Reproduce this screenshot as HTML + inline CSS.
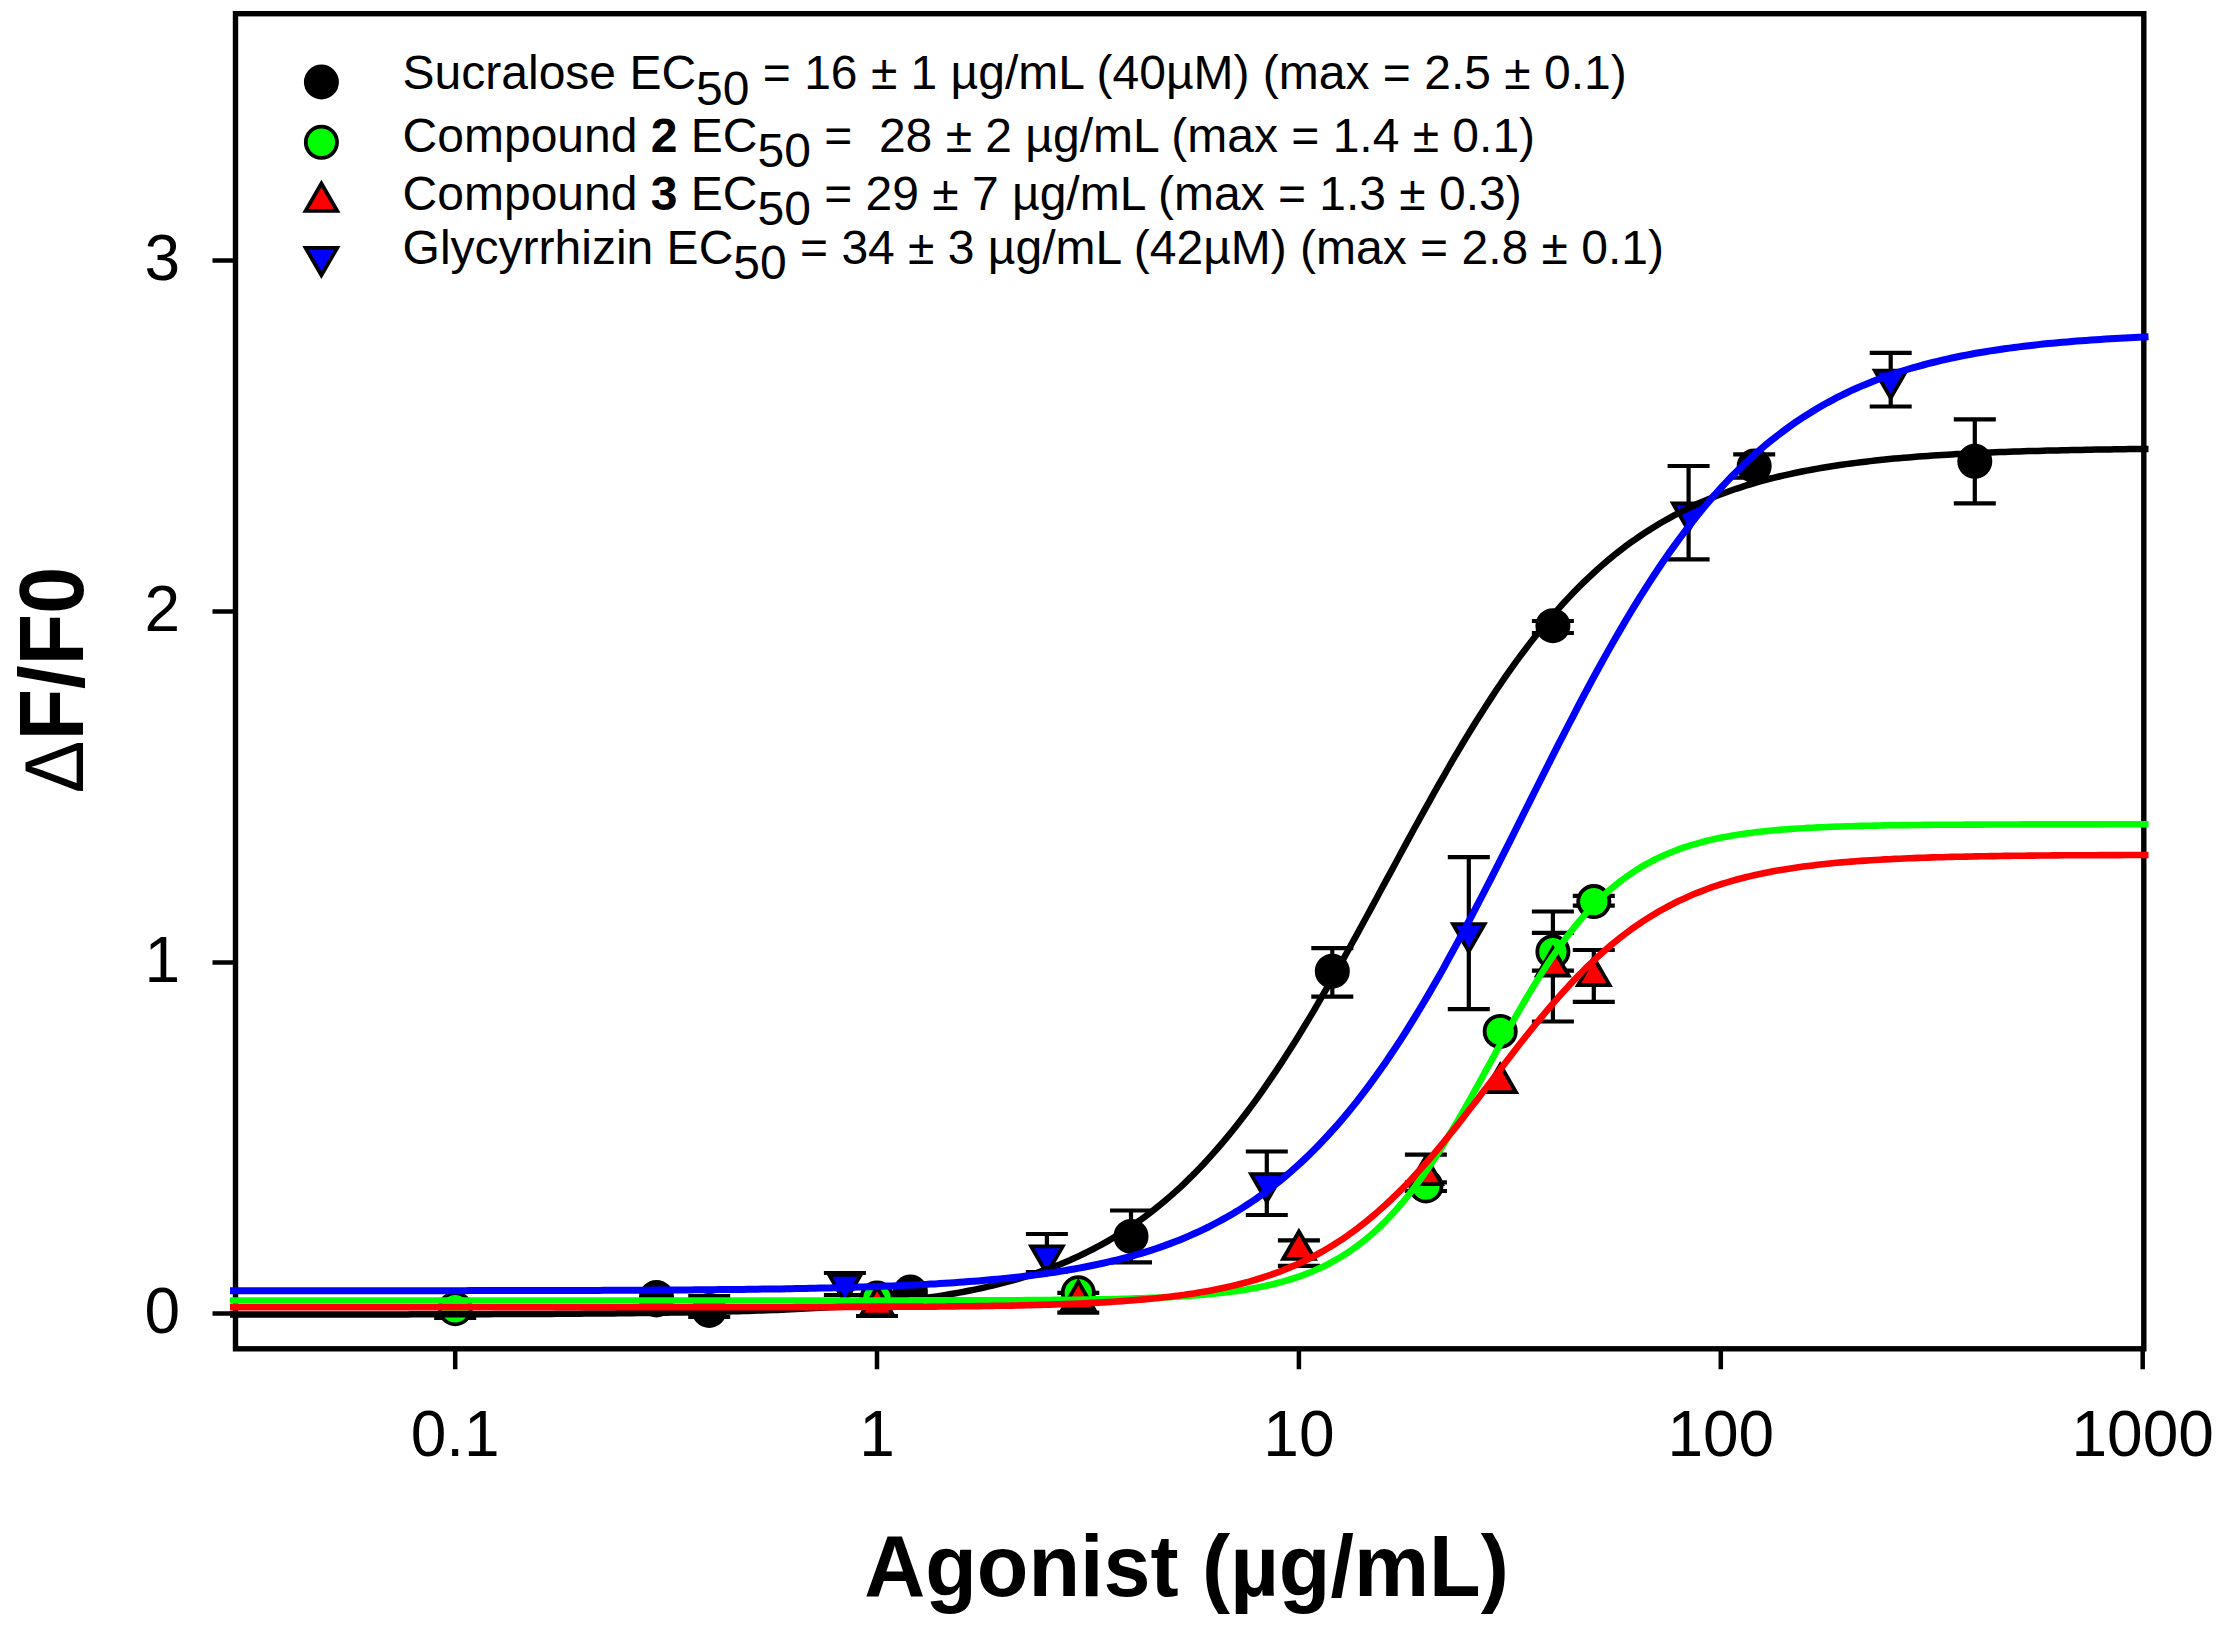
<!DOCTYPE html>
<html><head><meta charset="utf-8"><title>Dose-response</title>
<style>html,body{margin:0;padding:0;background:#fff;}svg{display:block;}</style>
</head><body>
<svg width="2229" height="1644" viewBox="0 0 2229 1644">
<rect x="0" y="0" width="2229" height="1644" fill="#fff"/>
<rect x="235.5" y="13.7" width="1908.3000000000002" height="1335.1" fill="none" stroke="#000" stroke-width="5.4"/>
<path d="M212.5,1313.5 H235.5 M212.5,962.5 H235.5 M212.5,611.5 H235.5 M212.5,260.5 H235.5 M455.2,1348.8 V1369.3 M877.0,1348.8 V1369.3 M1298.9,1348.8 V1369.3 M1720.8,1348.8 V1369.3 M2142.7,1348.8 V1369.3" stroke="#000" stroke-width="4.5" fill="none"/>
<g><path d="M709.2,1296.0 V1317.0 M688.2,1296.0 H730.2 M688.2,1317.0 H730.2" stroke="#000" stroke-width="4.2" fill="none"/><path d="M1131.0,1210.5 V1262.4 M1110.0,1210.5 H1152.0 M1110.0,1262.4 H1152.0" stroke="#000" stroke-width="4.2" fill="none"/><path d="M1332.3,948.1 V996.6 M1311.3,948.1 H1353.3 M1311.3,996.6 H1353.3" stroke="#000" stroke-width="4.2" fill="none"/><path d="M1552.9,621.0 V633.0 M1531.9,621.0 H1573.9 M1531.9,633.0 H1573.9" stroke="#000" stroke-width="4.2" fill="none"/><path d="M1754.2,454.3 V477.7 M1733.2,454.3 H1775.2 M1733.2,477.7 H1775.2" stroke="#000" stroke-width="4.2" fill="none"/><path d="M1974.8,419.3 V503.3 M1953.8,419.3 H1995.8 M1953.8,503.3 H1995.8" stroke="#000" stroke-width="4.2" fill="none"/><path d="M844.9,1273.0 V1295.0 M823.9,1273.0 H865.9 M823.9,1295.0 H865.9" stroke="#000" stroke-width="4.2" fill="none"/><path d="M1046.9,1234.0 V1272.0 M1025.9,1234.0 H1067.9 M1025.9,1272.0 H1067.9" stroke="#000" stroke-width="4.2" fill="none"/><path d="M1266.8,1151.5 V1215.0 M1245.8,1151.5 H1287.8 M1245.8,1215.0 H1287.8" stroke="#000" stroke-width="4.2" fill="none"/><path d="M1468.8,857.2 V1009.2 M1447.8,857.2 H1489.8 M1447.8,1009.2 H1489.8" stroke="#000" stroke-width="4.2" fill="none"/><path d="M1688.6,466.0 V559.3 M1667.6,466.0 H1709.6 M1667.6,559.3 H1709.6" stroke="#000" stroke-width="4.2" fill="none"/><path d="M1890.7,352.8 V406.5 M1869.7,352.8 H1911.7 M1869.7,406.5 H1911.7" stroke="#000" stroke-width="4.2" fill="none"/><path d="M455.2,1290.5 V1318.0 M434.2,1290.5 H476.2 M434.2,1318.0 H476.2" stroke="#000" stroke-width="4.2" fill="none"/><path d="M1425.9,1182.3 V1191.0 M1404.9,1182.3 H1446.9 M1404.9,1191.0 H1446.9" stroke="#000" stroke-width="4.2" fill="none"/><path d="M1552.9,932.8 V970.6 M1531.9,932.8 H1573.9 M1531.9,970.6 H1573.9" stroke="#000" stroke-width="4.2" fill="none"/><path d="M1593.8,895.8 V905.7 M1572.8,895.8 H1614.8 M1572.8,905.7 H1614.8" stroke="#000" stroke-width="4.2" fill="none"/><path d="M877.0,1295.0 V1316.0 M856.0,1295.0 H898.0 M856.0,1316.0 H898.0" stroke="#000" stroke-width="4.2" fill="none"/><path d="M1078.3,1292.9 V1312.7 M1057.3,1292.9 H1099.3 M1057.3,1312.7 H1099.3" stroke="#000" stroke-width="4.2" fill="none"/><path d="M1298.9,1240.4 V1265.8 M1277.9,1240.4 H1319.9 M1277.9,1265.8 H1319.9" stroke="#000" stroke-width="4.2" fill="none"/><path d="M1425.9,1154.6 V1191.0 M1404.9,1154.6 H1446.9 M1404.9,1191.0 H1446.9" stroke="#000" stroke-width="4.2" fill="none"/><path d="M1552.9,911.5 V1021.5 M1531.9,911.5 H1573.9 M1531.9,1021.5 H1573.9" stroke="#000" stroke-width="4.2" fill="none"/><path d="M1593.8,950.0 V1001.8 M1572.8,950.0 H1614.8 M1572.8,1001.8 H1614.8" stroke="#000" stroke-width="4.2" fill="none"/></g>
<g><circle cx="455.2" cy="1308.7" r="15.6" fill="#00ff00" stroke="#000" stroke-width="3.8"/><circle cx="656.5" cy="1300.0" r="15.6" fill="#00ff00" stroke="#000" stroke-width="3.8"/><circle cx="877.0" cy="1298.0" r="15.6" fill="#00ff00" stroke="#000" stroke-width="3.8"/><circle cx="1078.3" cy="1292.8" r="15.6" fill="#00ff00" stroke="#000" stroke-width="3.8"/><circle cx="1425.9" cy="1186.0" r="15.6" fill="#00ff00" stroke="#000" stroke-width="3.8"/><circle cx="1500.2" cy="1031.4" r="15.6" fill="#00ff00" stroke="#000" stroke-width="3.8"/><circle cx="1552.9" cy="951.7" r="15.6" fill="#00ff00" stroke="#000" stroke-width="3.8"/><circle cx="1593.8" cy="901.6" r="15.6" fill="#00ff00" stroke="#000" stroke-width="3.8"/><path d="M877.0,1287.3 L892.8,1314.6 L861.3,1314.6 Z" fill="#ff0000" stroke="#000" stroke-width="3.8" stroke-linejoin="miter"/><path d="M1078.3,1281.8 L1094.1,1309.1 L1062.6,1309.1 Z" fill="#ff0000" stroke="#000" stroke-width="3.8" stroke-linejoin="miter"/><path d="M1298.9,1231.5 L1314.7,1258.8 L1283.1,1258.8 Z" fill="#ff0000" stroke="#000" stroke-width="3.8" stroke-linejoin="miter"/><path d="M1425.9,1156.8 L1441.7,1184.1 L1410.1,1184.1 Z" fill="#ff0000" stroke="#000" stroke-width="3.8" stroke-linejoin="miter"/><path d="M1500.2,1064.8 L1516.0,1092.1 L1484.4,1092.1 Z" fill="#ff0000" stroke="#000" stroke-width="3.8" stroke-linejoin="miter"/><path d="M1552.9,948.3 L1568.7,975.6 L1537.1,975.6 Z" fill="#ff0000" stroke="#000" stroke-width="3.8" stroke-linejoin="miter"/><path d="M1593.8,957.7 L1609.6,985.0 L1578.0,985.0 Z" fill="#ff0000" stroke="#000" stroke-width="3.8" stroke-linejoin="miter"/><path d="M829.1,1274.9 L860.7,1274.9 L844.9,1302.2 Z" fill="#0000ff" stroke="#000" stroke-width="3.8" stroke-linejoin="miter"/><path d="M1031.1,1246.4 L1062.7,1246.4 L1046.9,1273.7 Z" fill="#0000ff" stroke="#000" stroke-width="3.8" stroke-linejoin="miter"/><path d="M1251.0,1174.2 L1282.5,1174.2 L1266.8,1201.5 Z" fill="#0000ff" stroke="#000" stroke-width="3.8" stroke-linejoin="miter"/><path d="M1453.0,924.1 L1484.6,924.1 L1468.8,951.4 Z" fill="#0000ff" stroke="#000" stroke-width="3.8" stroke-linejoin="miter"/><path d="M1672.9,503.5 L1704.4,503.5 L1688.6,530.8 Z" fill="#0000ff" stroke="#000" stroke-width="3.8" stroke-linejoin="miter"/><path d="M1874.9,370.6 L1906.4,370.6 L1890.7,397.9 Z" fill="#0000ff" stroke="#000" stroke-width="3.8" stroke-linejoin="miter"/><circle cx="656.5" cy="1297.4" r="15.6" fill="#000" stroke="#000" stroke-width="3.8"/><circle cx="709.2" cy="1310.4" r="15.6" fill="#000" stroke="#000" stroke-width="3.8"/><circle cx="910.4" cy="1292.0" r="15.6" fill="#000" stroke="#000" stroke-width="3.8"/><circle cx="1131.0" cy="1236.4" r="15.6" fill="#000" stroke="#000" stroke-width="3.8"/><circle cx="1332.3" cy="971.2" r="15.6" fill="#000" stroke="#000" stroke-width="3.8"/><circle cx="1552.9" cy="625.7" r="15.6" fill="#000" stroke="#000" stroke-width="3.8"/><circle cx="1754.2" cy="466.0" r="15.6" fill="#000" stroke="#000" stroke-width="3.8"/><circle cx="1974.8" cy="461.3" r="15.6" fill="#000" stroke="#000" stroke-width="3.8"/></g>
<path d="M230.0,1314.5 L234.8,1314.5 L239.6,1314.5 L244.4,1314.5 L249.2,1314.5 L254.0,1314.5 L258.8,1314.5 L263.6,1314.5 L268.4,1314.5 L273.2,1314.5 L278.0,1314.5 L282.8,1314.5 L287.6,1314.5 L292.4,1314.5 L297.1,1314.5 L301.9,1314.5 L306.7,1314.5 L311.5,1314.5 L316.3,1314.5 L321.1,1314.5 L325.9,1314.5 L330.7,1314.4 L335.5,1314.4 L340.3,1314.4 L345.1,1314.4 L349.9,1314.4 L354.7,1314.4 L359.5,1314.4 L364.3,1314.4 L369.1,1314.4 L373.9,1314.4 L378.7,1314.4 L383.5,1314.4 L388.3,1314.4 L393.1,1314.4 L397.9,1314.4 L402.7,1314.4 L407.5,1314.4 L412.3,1314.3 L417.1,1314.3 L421.9,1314.3 L426.6,1314.3 L431.4,1314.3 L436.2,1314.3 L441.0,1314.3 L445.8,1314.3 L450.6,1314.3 L455.4,1314.3 L460.2,1314.2 L465.0,1314.2 L469.8,1314.2 L474.6,1314.2 L479.4,1314.2 L484.2,1314.2 L489.0,1314.2 L493.8,1314.1 L498.6,1314.1 L503.4,1314.1 L508.2,1314.1 L513.0,1314.1 L517.8,1314.0 L522.6,1314.0 L527.4,1314.0 L532.2,1314.0 L537.0,1313.9 L541.8,1313.9 L546.6,1313.9 L551.3,1313.9 L556.1,1313.8 L560.9,1313.8 L565.7,1313.8 L570.5,1313.7 L575.3,1313.7 L580.1,1313.7 L584.9,1313.6 L589.7,1313.6 L594.5,1313.6 L599.3,1313.5 L604.1,1313.5 L608.9,1313.4 L613.7,1313.4 L618.5,1313.3 L623.3,1313.3 L628.1,1313.2 L632.9,1313.2 L637.7,1313.1 L642.5,1313.1 L647.3,1313.0 L652.1,1312.9 L656.9,1312.9 L661.7,1312.8 L666.5,1312.7 L671.3,1312.6 L676.1,1312.6 L680.8,1312.5 L685.6,1312.4 L690.4,1312.3 L695.2,1312.2 L700.0,1312.1 L704.8,1312.0 L709.6,1311.9 L714.4,1311.8 L719.2,1311.7 L724.0,1311.6 L728.8,1311.4 L733.6,1311.3 L738.4,1311.2 L743.2,1311.0 L748.0,1310.9 L752.8,1310.7 L757.6,1310.6 L762.4,1310.4 L767.2,1310.2 L772.0,1310.0 L776.8,1309.9 L781.6,1309.7 L786.4,1309.5 L791.2,1309.2 L796.0,1309.0 L800.8,1308.8 L805.5,1308.6 L810.3,1308.3 L815.1,1308.0 L819.9,1307.8 L824.7,1307.5 L829.5,1307.2 L834.3,1306.9 L839.1,1306.6 L843.9,1306.2 L848.7,1305.9 L853.5,1305.5 L858.3,1305.2 L863.1,1304.8 L867.9,1304.4 L872.7,1303.9 L877.5,1303.5 L882.3,1303.1 L887.1,1302.6 L891.9,1302.1 L896.7,1301.6 L901.5,1301.0 L906.3,1300.5 L911.1,1299.9 L915.9,1299.3 L920.7,1298.7 L925.5,1298.0 L930.3,1297.3 L935.0,1296.6 L939.8,1295.9 L944.6,1295.1 L949.4,1294.3 L954.2,1293.5 L959.0,1292.6 L963.8,1291.8 L968.6,1290.8 L973.4,1289.9 L978.2,1288.9 L983.0,1287.8 L987.8,1286.7 L992.6,1285.6 L997.4,1284.4 L1002.2,1283.2 L1007.0,1281.9 L1011.8,1280.6 L1016.6,1279.3 L1021.4,1277.9 L1026.2,1276.4 L1031.0,1274.9 L1035.8,1273.3 L1040.6,1271.6 L1045.4,1269.9 L1050.2,1268.2 L1055.0,1266.3 L1059.8,1264.4 L1064.5,1262.4 L1069.3,1260.4 L1074.1,1258.3 L1078.9,1256.1 L1083.7,1253.8 L1088.5,1251.4 L1093.3,1249.0 L1098.1,1246.5 L1102.9,1243.8 L1107.7,1241.1 L1112.5,1238.3 L1117.3,1235.4 L1122.1,1232.4 L1126.9,1229.3 L1131.7,1226.1 L1136.5,1222.8 L1141.3,1219.4 L1146.1,1215.8 L1150.9,1212.2 L1155.7,1208.4 L1160.5,1204.5 L1165.3,1200.5 L1170.1,1196.4 L1174.9,1192.2 L1179.7,1187.8 L1184.5,1183.3 L1189.2,1178.6 L1194.0,1173.9 L1198.8,1168.9 L1203.6,1163.9 L1208.4,1158.7 L1213.2,1153.4 L1218.0,1148.0 L1222.8,1142.4 L1227.6,1136.6 L1232.4,1130.8 L1237.2,1124.7 L1242.0,1118.6 L1246.8,1112.3 L1251.6,1105.9 L1256.4,1099.3 L1261.2,1092.6 L1266.0,1085.7 L1270.8,1078.7 L1275.6,1071.6 L1280.4,1064.4 L1285.2,1057.0 L1290.0,1049.5 L1294.8,1041.9 L1299.6,1034.2 L1304.4,1026.3 L1309.2,1018.4 L1314.0,1010.3 L1318.7,1002.2 L1323.5,993.9 L1328.3,985.6 L1333.1,977.2 L1337.9,968.7 L1342.7,960.1 L1347.5,951.5 L1352.3,942.8 L1357.1,934.1 L1361.9,925.3 L1366.7,916.5 L1371.5,907.6 L1376.3,898.7 L1381.1,889.8 L1385.9,880.9 L1390.7,872.1 L1395.5,863.2 L1400.3,854.3 L1405.1,845.4 L1409.9,836.6 L1414.7,827.8 L1419.5,819.1 L1424.3,810.4 L1429.1,801.8 L1433.9,793.2 L1438.7,784.7 L1443.5,776.3 L1448.2,768.0 L1453.0,759.7 L1457.8,751.6 L1462.6,743.5 L1467.4,735.6 L1472.2,727.7 L1477.0,720.0 L1481.8,712.4 L1486.6,704.9 L1491.4,697.6 L1496.2,690.3 L1501.0,683.2 L1505.8,676.2 L1510.6,669.4 L1515.4,662.7 L1520.2,656.1 L1525.0,649.7 L1529.8,643.4 L1534.6,637.2 L1539.4,631.2 L1544.2,625.4 L1549.0,619.6 L1553.8,614.0 L1558.6,608.6 L1563.4,603.3 L1568.2,598.1 L1573.0,593.1 L1577.7,588.2 L1582.5,583.4 L1587.3,578.8 L1592.1,574.3 L1596.9,569.9 L1601.7,565.6 L1606.5,561.5 L1611.3,557.5 L1616.1,553.6 L1620.9,549.9 L1625.7,546.2 L1630.5,542.7 L1635.3,539.3 L1640.1,536.0 L1644.9,532.8 L1649.7,529.7 L1654.5,526.7 L1659.3,523.8 L1664.1,521.0 L1668.9,518.3 L1673.7,515.6 L1678.5,513.1 L1683.3,510.7 L1688.1,508.3 L1692.9,506.0 L1697.7,503.8 L1702.4,501.7 L1707.2,499.7 L1712.0,497.7 L1716.8,495.8 L1721.6,494.0 L1726.4,492.2 L1731.2,490.5 L1736.0,488.8 L1740.8,487.3 L1745.6,485.7 L1750.4,484.3 L1755.2,482.9 L1760.0,481.5 L1764.8,480.2 L1769.6,478.9 L1774.4,477.7 L1779.2,476.5 L1784.0,475.4 L1788.8,474.3 L1793.6,473.3 L1798.4,472.3 L1803.2,471.3 L1808.0,470.4 L1812.8,469.5 L1817.6,468.6 L1822.4,467.8 L1827.2,467.0 L1831.9,466.3 L1836.7,465.5 L1841.5,464.8 L1846.3,464.1 L1851.1,463.5 L1855.9,462.9 L1860.7,462.3 L1865.5,461.7 L1870.3,461.1 L1875.1,460.6 L1879.9,460.1 L1884.7,459.6 L1889.5,459.1 L1894.3,458.6 L1899.1,458.2 L1903.9,457.8 L1908.7,457.4 L1913.5,457.0 L1918.3,456.6 L1923.1,456.3 L1927.9,455.9 L1932.7,455.6 L1937.5,455.3 L1942.3,455.0 L1947.1,454.7 L1951.9,454.4 L1956.7,454.1 L1961.4,453.9 L1966.2,453.6 L1971.0,453.4 L1975.8,453.1 L1980.6,452.9 L1985.4,452.7 L1990.2,452.5 L1995.0,452.3 L1999.8,452.1 L2004.6,451.9 L2009.4,451.8 L2014.2,451.6 L2019.0,451.4 L2023.8,451.3 L2028.6,451.1 L2033.4,451.0 L2038.2,450.9 L2043.0,450.7 L2047.8,450.6 L2052.6,450.5 L2057.4,450.4 L2062.2,450.3 L2067.0,450.2 L2071.8,450.1 L2076.6,450.0 L2081.4,449.9 L2086.1,449.8 L2090.9,449.7 L2095.7,449.6 L2100.5,449.5 L2105.3,449.4 L2110.1,449.4 L2114.9,449.3 L2119.7,449.2 L2124.5,449.2 L2129.3,449.1 L2134.1,449.1 L2138.9,449.0 L2143.7,448.9 L2148.5,448.9" stroke="#000" stroke-width="6.5" fill="none"/>
<path d="M230.0,1300.5 L234.8,1300.5 L239.6,1300.5 L244.4,1300.5 L249.2,1300.5 L254.0,1300.5 L258.8,1300.5 L263.6,1300.5 L268.4,1300.5 L273.2,1300.5 L278.0,1300.5 L282.8,1300.5 L287.6,1300.5 L292.4,1300.5 L297.1,1300.5 L301.9,1300.5 L306.7,1300.5 L311.5,1300.5 L316.3,1300.5 L321.1,1300.5 L325.9,1300.5 L330.7,1300.5 L335.5,1300.5 L340.3,1300.5 L345.1,1300.5 L349.9,1300.5 L354.7,1300.5 L359.5,1300.5 L364.3,1300.5 L369.1,1300.5 L373.9,1300.5 L378.7,1300.5 L383.5,1300.5 L388.3,1300.5 L393.1,1300.5 L397.9,1300.5 L402.7,1300.5 L407.5,1300.5 L412.3,1300.5 L417.1,1300.5 L421.9,1300.5 L426.6,1300.5 L431.4,1300.5 L436.2,1300.5 L441.0,1300.5 L445.8,1300.5 L450.6,1300.5 L455.4,1300.5 L460.2,1300.5 L465.0,1300.5 L469.8,1300.5 L474.6,1300.5 L479.4,1300.5 L484.2,1300.5 L489.0,1300.5 L493.8,1300.5 L498.6,1300.5 L503.4,1300.5 L508.2,1300.5 L513.0,1300.5 L517.8,1300.5 L522.6,1300.5 L527.4,1300.5 L532.2,1300.5 L537.0,1300.5 L541.8,1300.5 L546.6,1300.5 L551.3,1300.5 L556.1,1300.5 L560.9,1300.5 L565.7,1300.5 L570.5,1300.5 L575.3,1300.5 L580.1,1300.5 L584.9,1300.5 L589.7,1300.5 L594.5,1300.5 L599.3,1300.5 L604.1,1300.5 L608.9,1300.5 L613.7,1300.5 L618.5,1300.5 L623.3,1300.5 L628.1,1300.5 L632.9,1300.5 L637.7,1300.5 L642.5,1300.5 L647.3,1300.5 L652.1,1300.5 L656.9,1300.5 L661.7,1300.5 L666.5,1300.5 L671.3,1300.5 L676.1,1300.5 L680.8,1300.5 L685.6,1300.5 L690.4,1300.5 L695.2,1300.5 L700.0,1300.5 L704.8,1300.5 L709.6,1300.5 L714.4,1300.5 L719.2,1300.5 L724.0,1300.5 L728.8,1300.5 L733.6,1300.5 L738.4,1300.5 L743.2,1300.5 L748.0,1300.5 L752.8,1300.5 L757.6,1300.5 L762.4,1300.5 L767.2,1300.5 L772.0,1300.5 L776.8,1300.5 L781.6,1300.5 L786.4,1300.5 L791.2,1300.5 L796.0,1300.5 L800.8,1300.5 L805.5,1300.5 L810.3,1300.5 L815.1,1300.5 L819.9,1300.5 L824.7,1300.5 L829.5,1300.5 L834.3,1300.5 L839.1,1300.5 L843.9,1300.5 L848.7,1300.5 L853.5,1300.5 L858.3,1300.5 L863.1,1300.5 L867.9,1300.5 L872.7,1300.5 L877.5,1300.5 L882.3,1300.5 L887.1,1300.5 L891.9,1300.5 L896.7,1300.5 L901.5,1300.5 L906.3,1300.5 L911.1,1300.4 L915.9,1300.4 L920.7,1300.4 L925.5,1300.4 L930.3,1300.4 L935.0,1300.4 L939.8,1300.4 L944.6,1300.4 L949.4,1300.4 L954.2,1300.4 L959.0,1300.4 L963.8,1300.4 L968.6,1300.4 L973.4,1300.3 L978.2,1300.3 L983.0,1300.3 L987.8,1300.3 L992.6,1300.3 L997.4,1300.3 L1002.2,1300.2 L1007.0,1300.2 L1011.8,1300.2 L1016.6,1300.2 L1021.4,1300.2 L1026.2,1300.1 L1031.0,1300.1 L1035.8,1300.1 L1040.6,1300.0 L1045.4,1300.0 L1050.2,1300.0 L1055.0,1299.9 L1059.8,1299.9 L1064.5,1299.8 L1069.3,1299.8 L1074.1,1299.7 L1078.9,1299.7 L1083.7,1299.6 L1088.5,1299.5 L1093.3,1299.4 L1098.1,1299.4 L1102.9,1299.3 L1107.7,1299.2 L1112.5,1299.1 L1117.3,1299.0 L1122.1,1298.9 L1126.9,1298.7 L1131.7,1298.6 L1136.5,1298.4 L1141.3,1298.3 L1146.1,1298.1 L1150.9,1297.9 L1155.7,1297.7 L1160.5,1297.5 L1165.3,1297.3 L1170.1,1297.1 L1174.9,1296.8 L1179.7,1296.5 L1184.5,1296.2 L1189.2,1295.9 L1194.0,1295.5 L1198.8,1295.2 L1203.6,1294.7 L1208.4,1294.3 L1213.2,1293.8 L1218.0,1293.3 L1222.8,1292.8 L1227.6,1292.2 L1232.4,1291.6 L1237.2,1290.9 L1242.0,1290.2 L1246.8,1289.5 L1251.6,1288.6 L1256.4,1287.7 L1261.2,1286.8 L1266.0,1285.8 L1270.8,1284.7 L1275.6,1283.5 L1280.4,1282.3 L1285.2,1280.9 L1290.0,1279.5 L1294.8,1278.0 L1299.6,1276.4 L1304.4,1274.6 L1309.2,1272.7 L1314.0,1270.8 L1318.7,1268.6 L1323.5,1266.4 L1328.3,1264.0 L1333.1,1261.4 L1337.9,1258.7 L1342.7,1255.8 L1347.5,1252.7 L1352.3,1249.4 L1357.1,1246.0 L1361.9,1242.3 L1366.7,1238.5 L1371.5,1234.4 L1376.3,1230.1 L1381.1,1225.5 L1385.9,1220.8 L1390.7,1215.8 L1395.5,1210.5 L1400.3,1205.0 L1405.1,1199.3 L1409.9,1193.3 L1414.7,1187.0 L1419.5,1180.5 L1424.3,1173.8 L1429.1,1166.8 L1433.9,1159.6 L1438.7,1152.2 L1443.5,1144.6 L1448.2,1136.8 L1453.0,1128.8 L1457.8,1120.6 L1462.6,1112.3 L1467.4,1103.9 L1472.2,1095.3 L1477.0,1086.7 L1481.8,1078.0 L1486.6,1069.2 L1491.4,1060.5 L1496.2,1051.7 L1501.0,1043.0 L1505.8,1034.3 L1510.6,1025.7 L1515.4,1017.2 L1520.2,1008.8 L1525.0,1000.5 L1529.8,992.4 L1534.6,984.5 L1539.4,976.8 L1544.2,969.3 L1549.0,961.9 L1553.8,954.9 L1558.6,948.0 L1563.4,941.4 L1568.2,935.0 L1573.0,928.9 L1577.7,923.0 L1582.5,917.3 L1587.3,912.0 L1592.1,906.8 L1596.9,901.9 L1601.7,897.2 L1606.5,892.8 L1611.3,888.6 L1616.1,884.6 L1620.9,880.8 L1625.7,877.3 L1630.5,873.9 L1635.3,870.7 L1640.1,867.7 L1644.9,864.9 L1649.7,862.3 L1654.5,859.8 L1659.3,857.4 L1664.1,855.2 L1668.9,853.2 L1673.7,851.2 L1678.5,849.4 L1683.3,847.7 L1688.1,846.1 L1692.9,844.7 L1697.7,843.3 L1702.4,842.0 L1707.2,840.8 L1712.0,839.6 L1716.8,838.6 L1721.6,837.6 L1726.4,836.7 L1731.2,835.8 L1736.0,835.0 L1740.8,834.3 L1745.6,833.6 L1750.4,832.9 L1755.2,832.3 L1760.0,831.8 L1764.8,831.3 L1769.6,830.8 L1774.4,830.3 L1779.2,829.9 L1784.0,829.5 L1788.8,829.1 L1793.6,828.8 L1798.4,828.5 L1803.2,828.2 L1808.0,827.9 L1812.8,827.7 L1817.6,827.4 L1822.4,827.2 L1827.2,827.0 L1831.9,826.8 L1836.7,826.6 L1841.5,826.5 L1846.3,826.3 L1851.1,826.2 L1855.9,826.0 L1860.7,825.9 L1865.5,825.8 L1870.3,825.7 L1875.1,825.6 L1879.9,825.5 L1884.7,825.4 L1889.5,825.3 L1894.3,825.3 L1899.1,825.2 L1903.9,825.1 L1908.7,825.1 L1913.5,825.0 L1918.3,825.0 L1923.1,824.9 L1927.9,824.9 L1932.7,824.8 L1937.5,824.8 L1942.3,824.8 L1947.1,824.7 L1951.9,824.7 L1956.7,824.7 L1961.4,824.7 L1966.2,824.6 L1971.0,824.6 L1975.8,824.6 L1980.6,824.6 L1985.4,824.5 L1990.2,824.5 L1995.0,824.5 L1999.8,824.5 L2004.6,824.5 L2009.4,824.5 L2014.2,824.5 L2019.0,824.5 L2023.8,824.4 L2028.6,824.4 L2033.4,824.4 L2038.2,824.4 L2043.0,824.4 L2047.8,824.4 L2052.6,824.4 L2057.4,824.4 L2062.2,824.4 L2067.0,824.4 L2071.8,824.4 L2076.6,824.4 L2081.4,824.4 L2086.1,824.4 L2090.9,824.4 L2095.7,824.4 L2100.5,824.4 L2105.3,824.3 L2110.1,824.3 L2114.9,824.3 L2119.7,824.3 L2124.5,824.3 L2129.3,824.3 L2134.1,824.3 L2138.9,824.3 L2143.7,824.3 L2148.5,824.3" stroke="#00ff00" stroke-width="6.6" fill="none"/>
<path d="M230.0,1307.3 L234.8,1307.3 L239.6,1307.3 L244.4,1307.3 L249.2,1307.3 L254.0,1307.3 L258.8,1307.3 L263.6,1307.3 L268.4,1307.3 L273.2,1307.3 L278.0,1307.3 L282.8,1307.3 L287.6,1307.3 L292.4,1307.3 L297.1,1307.3 L301.9,1307.3 L306.7,1307.3 L311.5,1307.3 L316.3,1307.3 L321.1,1307.3 L325.9,1307.3 L330.7,1307.3 L335.5,1307.3 L340.3,1307.3 L345.1,1307.3 L349.9,1307.3 L354.7,1307.3 L359.5,1307.3 L364.3,1307.3 L369.1,1307.3 L373.9,1307.3 L378.7,1307.3 L383.5,1307.3 L388.3,1307.3 L393.1,1307.3 L397.9,1307.3 L402.7,1307.3 L407.5,1307.3 L412.3,1307.3 L417.1,1307.3 L421.9,1307.3 L426.6,1307.3 L431.4,1307.3 L436.2,1307.3 L441.0,1307.3 L445.8,1307.3 L450.6,1307.3 L455.4,1307.3 L460.2,1307.3 L465.0,1307.3 L469.8,1307.3 L474.6,1307.3 L479.4,1307.3 L484.2,1307.3 L489.0,1307.3 L493.8,1307.3 L498.6,1307.3 L503.4,1307.3 L508.2,1307.3 L513.0,1307.3 L517.8,1307.3 L522.6,1307.3 L527.4,1307.3 L532.2,1307.3 L537.0,1307.3 L541.8,1307.3 L546.6,1307.3 L551.3,1307.3 L556.1,1307.3 L560.9,1307.3 L565.7,1307.3 L570.5,1307.3 L575.3,1307.3 L580.1,1307.3 L584.9,1307.3 L589.7,1307.3 L594.5,1307.3 L599.3,1307.3 L604.1,1307.3 L608.9,1307.3 L613.7,1307.3 L618.5,1307.3 L623.3,1307.3 L628.1,1307.3 L632.9,1307.3 L637.7,1307.3 L642.5,1307.3 L647.3,1307.3 L652.1,1307.3 L656.9,1307.3 L661.7,1307.3 L666.5,1307.3 L671.3,1307.3 L676.1,1307.3 L680.8,1307.3 L685.6,1307.2 L690.4,1307.2 L695.2,1307.2 L700.0,1307.2 L704.8,1307.2 L709.6,1307.2 L714.4,1307.2 L719.2,1307.2 L724.0,1307.2 L728.8,1307.2 L733.6,1307.2 L738.4,1307.2 L743.2,1307.2 L748.0,1307.2 L752.8,1307.2 L757.6,1307.2 L762.4,1307.2 L767.2,1307.2 L772.0,1307.2 L776.8,1307.2 L781.6,1307.2 L786.4,1307.2 L791.2,1307.2 L796.0,1307.1 L800.8,1307.1 L805.5,1307.1 L810.3,1307.1 L815.1,1307.1 L819.9,1307.1 L824.7,1307.1 L829.5,1307.1 L834.3,1307.1 L839.1,1307.1 L843.9,1307.0 L848.7,1307.0 L853.5,1307.0 L858.3,1307.0 L863.1,1307.0 L867.9,1307.0 L872.7,1306.9 L877.5,1306.9 L882.3,1306.9 L887.1,1306.9 L891.9,1306.9 L896.7,1306.8 L901.5,1306.8 L906.3,1306.8 L911.1,1306.7 L915.9,1306.7 L920.7,1306.7 L925.5,1306.7 L930.3,1306.6 L935.0,1306.6 L939.8,1306.5 L944.6,1306.5 L949.4,1306.4 L954.2,1306.4 L959.0,1306.3 L963.8,1306.3 L968.6,1306.2 L973.4,1306.2 L978.2,1306.1 L983.0,1306.0 L987.8,1306.0 L992.6,1305.9 L997.4,1305.8 L1002.2,1305.7 L1007.0,1305.7 L1011.8,1305.6 L1016.6,1305.5 L1021.4,1305.4 L1026.2,1305.2 L1031.0,1305.1 L1035.8,1305.0 L1040.6,1304.9 L1045.4,1304.7 L1050.2,1304.6 L1055.0,1304.4 L1059.8,1304.3 L1064.5,1304.1 L1069.3,1303.9 L1074.1,1303.7 L1078.9,1303.5 L1083.7,1303.3 L1088.5,1303.1 L1093.3,1302.9 L1098.1,1302.6 L1102.9,1302.4 L1107.7,1302.1 L1112.5,1301.8 L1117.3,1301.5 L1122.1,1301.1 L1126.9,1300.8 L1131.7,1300.4 L1136.5,1300.0 L1141.3,1299.6 L1146.1,1299.2 L1150.9,1298.7 L1155.7,1298.3 L1160.5,1297.8 L1165.3,1297.2 L1170.1,1296.7 L1174.9,1296.1 L1179.7,1295.4 L1184.5,1294.8 L1189.2,1294.1 L1194.0,1293.4 L1198.8,1292.6 L1203.6,1291.8 L1208.4,1290.9 L1213.2,1290.0 L1218.0,1289.1 L1222.8,1288.1 L1227.6,1287.0 L1232.4,1285.9 L1237.2,1284.8 L1242.0,1283.5 L1246.8,1282.3 L1251.6,1280.9 L1256.4,1279.5 L1261.2,1278.0 L1266.0,1276.4 L1270.8,1274.8 L1275.6,1273.1 L1280.4,1271.3 L1285.2,1269.4 L1290.0,1267.4 L1294.8,1265.4 L1299.6,1263.2 L1304.4,1260.9 L1309.2,1258.6 L1314.0,1256.1 L1318.7,1253.5 L1323.5,1250.8 L1328.3,1248.0 L1333.1,1245.1 L1337.9,1242.0 L1342.7,1238.9 L1347.5,1235.6 L1352.3,1232.1 L1357.1,1228.6 L1361.9,1224.9 L1366.7,1221.1 L1371.5,1217.1 L1376.3,1213.1 L1381.1,1208.8 L1385.9,1204.5 L1390.7,1200.0 L1395.5,1195.4 L1400.3,1190.6 L1405.1,1185.7 L1409.9,1180.7 L1414.7,1175.6 L1419.5,1170.3 L1424.3,1165.0 L1429.1,1159.5 L1433.9,1153.9 L1438.7,1148.2 L1443.5,1142.4 L1448.2,1136.5 L1453.0,1130.6 L1457.8,1124.6 L1462.6,1118.5 L1467.4,1112.3 L1472.2,1106.1 L1477.0,1099.9 L1481.8,1093.6 L1486.6,1087.3 L1491.4,1081.0 L1496.2,1074.8 L1501.0,1068.5 L1505.8,1062.2 L1510.6,1056.0 L1515.4,1049.8 L1520.2,1043.6 L1525.0,1037.5 L1529.8,1031.5 L1534.6,1025.5 L1539.4,1019.7 L1544.2,1013.9 L1549.0,1008.2 L1553.8,1002.6 L1558.6,997.1 L1563.4,991.7 L1568.2,986.5 L1573.0,981.3 L1577.7,976.3 L1582.5,971.5 L1587.3,966.7 L1592.1,962.1 L1596.9,957.6 L1601.7,953.2 L1606.5,949.0 L1611.3,944.9 L1616.1,941.0 L1620.9,937.2 L1625.7,933.5 L1630.5,929.9 L1635.3,926.5 L1640.1,923.2 L1644.9,920.0 L1649.7,917.0 L1654.5,914.1 L1659.3,911.2 L1664.1,908.6 L1668.9,906.0 L1673.7,903.5 L1678.5,901.1 L1683.3,898.9 L1688.1,896.7 L1692.9,894.6 L1697.7,892.6 L1702.4,890.8 L1707.2,889.0 L1712.0,887.2 L1716.8,885.6 L1721.6,884.0 L1726.4,882.6 L1731.2,881.1 L1736.0,879.8 L1740.8,878.5 L1745.6,877.3 L1750.4,876.1 L1755.2,875.0 L1760.0,874.0 L1764.8,873.0 L1769.6,872.0 L1774.4,871.1 L1779.2,870.3 L1784.0,869.4 L1788.8,868.7 L1793.6,867.9 L1798.4,867.2 L1803.2,866.6 L1808.0,866.0 L1812.8,865.4 L1817.6,864.8 L1822.4,864.3 L1827.2,863.8 L1831.9,863.3 L1836.7,862.8 L1841.5,862.4 L1846.3,862.0 L1851.1,861.6 L1855.9,861.2 L1860.7,860.9 L1865.5,860.6 L1870.3,860.3 L1875.1,860.0 L1879.9,859.7 L1884.7,859.4 L1889.5,859.2 L1894.3,858.9 L1899.1,858.7 L1903.9,858.5 L1908.7,858.3 L1913.5,858.1 L1918.3,857.9 L1923.1,857.7 L1927.9,857.6 L1932.7,857.4 L1937.5,857.3 L1942.3,857.2 L1947.1,857.0 L1951.9,856.9 L1956.7,856.8 L1961.4,856.7 L1966.2,856.6 L1971.0,856.5 L1975.8,856.4 L1980.6,856.3 L1985.4,856.2 L1990.2,856.1 L1995.0,856.1 L1999.8,856.0 L2004.6,855.9 L2009.4,855.9 L2014.2,855.8 L2019.0,855.7 L2023.8,855.7 L2028.6,855.6 L2033.4,855.6 L2038.2,855.5 L2043.0,855.5 L2047.8,855.5 L2052.6,855.4 L2057.4,855.4 L2062.2,855.3 L2067.0,855.3 L2071.8,855.3 L2076.6,855.3 L2081.4,855.2 L2086.1,855.2 L2090.9,855.2 L2095.7,855.2 L2100.5,855.1 L2105.3,855.1 L2110.1,855.1 L2114.9,855.1 L2119.7,855.1 L2124.5,855.0 L2129.3,855.0 L2134.1,855.0 L2138.9,855.0 L2143.7,855.0 L2148.5,855.0" stroke="#ff0000" stroke-width="6.6" fill="none"/>
<path d="M230.0,1290.8 L234.8,1290.8 L239.6,1290.8 L244.4,1290.8 L249.2,1290.8 L254.0,1290.8 L258.8,1290.8 L263.6,1290.8 L268.4,1290.8 L273.2,1290.8 L278.0,1290.8 L282.8,1290.8 L287.6,1290.8 L292.4,1290.8 L297.1,1290.8 L301.9,1290.8 L306.7,1290.8 L311.5,1290.8 L316.3,1290.8 L321.1,1290.7 L325.9,1290.7 L330.7,1290.7 L335.5,1290.7 L340.3,1290.7 L345.1,1290.7 L349.9,1290.7 L354.7,1290.7 L359.5,1290.7 L364.3,1290.7 L369.1,1290.7 L373.9,1290.7 L378.7,1290.7 L383.5,1290.7 L388.3,1290.7 L393.1,1290.7 L397.9,1290.7 L402.7,1290.7 L407.5,1290.7 L412.3,1290.7 L417.1,1290.7 L421.9,1290.7 L426.6,1290.7 L431.4,1290.7 L436.2,1290.7 L441.0,1290.7 L445.8,1290.7 L450.6,1290.7 L455.4,1290.7 L460.2,1290.7 L465.0,1290.7 L469.8,1290.6 L474.6,1290.6 L479.4,1290.6 L484.2,1290.6 L489.0,1290.6 L493.8,1290.6 L498.6,1290.6 L503.4,1290.6 L508.2,1290.6 L513.0,1290.6 L517.8,1290.6 L522.6,1290.6 L527.4,1290.6 L532.2,1290.5 L537.0,1290.5 L541.8,1290.5 L546.6,1290.5 L551.3,1290.5 L556.1,1290.5 L560.9,1290.5 L565.7,1290.5 L570.5,1290.5 L575.3,1290.4 L580.1,1290.4 L584.9,1290.4 L589.7,1290.4 L594.5,1290.4 L599.3,1290.4 L604.1,1290.3 L608.9,1290.3 L613.7,1290.3 L618.5,1290.3 L623.3,1290.3 L628.1,1290.3 L632.9,1290.2 L637.7,1290.2 L642.5,1290.2 L647.3,1290.2 L652.1,1290.1 L656.9,1290.1 L661.7,1290.1 L666.5,1290.0 L671.3,1290.0 L676.1,1290.0 L680.8,1290.0 L685.6,1289.9 L690.4,1289.9 L695.2,1289.8 L700.0,1289.8 L704.8,1289.8 L709.6,1289.7 L714.4,1289.7 L719.2,1289.6 L724.0,1289.6 L728.8,1289.5 L733.6,1289.5 L738.4,1289.4 L743.2,1289.4 L748.0,1289.3 L752.8,1289.3 L757.6,1289.2 L762.4,1289.1 L767.2,1289.1 L772.0,1289.0 L776.8,1288.9 L781.6,1288.9 L786.4,1288.8 L791.2,1288.7 L796.0,1288.6 L800.8,1288.5 L805.5,1288.4 L810.3,1288.3 L815.1,1288.2 L819.9,1288.1 L824.7,1288.0 L829.5,1287.9 L834.3,1287.8 L839.1,1287.7 L843.9,1287.5 L848.7,1287.4 L853.5,1287.3 L858.3,1287.1 L863.1,1287.0 L867.9,1286.8 L872.7,1286.7 L877.5,1286.5 L882.3,1286.3 L887.1,1286.1 L891.9,1285.9 L896.7,1285.7 L901.5,1285.5 L906.3,1285.3 L911.1,1285.1 L915.9,1284.9 L920.7,1284.6 L925.5,1284.4 L930.3,1284.1 L935.0,1283.9 L939.8,1283.6 L944.6,1283.3 L949.4,1283.0 L954.2,1282.7 L959.0,1282.3 L963.8,1282.0 L968.6,1281.6 L973.4,1281.3 L978.2,1280.9 L983.0,1280.5 L987.8,1280.1 L992.6,1279.6 L997.4,1279.2 L1002.2,1278.7 L1007.0,1278.2 L1011.8,1277.7 L1016.6,1277.2 L1021.4,1276.6 L1026.2,1276.1 L1031.0,1275.5 L1035.8,1274.9 L1040.6,1274.2 L1045.4,1273.6 L1050.2,1272.9 L1055.0,1272.2 L1059.8,1271.4 L1064.5,1270.6 L1069.3,1269.8 L1074.1,1269.0 L1078.9,1268.1 L1083.7,1267.2 L1088.5,1266.3 L1093.3,1265.3 L1098.1,1264.3 L1102.9,1263.3 L1107.7,1262.2 L1112.5,1261.0 L1117.3,1259.9 L1122.1,1258.6 L1126.9,1257.4 L1131.7,1256.1 L1136.5,1254.7 L1141.3,1253.3 L1146.1,1251.8 L1150.9,1250.3 L1155.7,1248.7 L1160.5,1247.1 L1165.3,1245.4 L1170.1,1243.6 L1174.9,1241.8 L1179.7,1239.9 L1184.5,1237.9 L1189.2,1235.9 L1194.0,1233.7 L1198.8,1231.6 L1203.6,1229.3 L1208.4,1227.0 L1213.2,1224.5 L1218.0,1222.0 L1222.8,1219.4 L1227.6,1216.7 L1232.4,1213.9 L1237.2,1211.1 L1242.0,1208.1 L1246.8,1205.0 L1251.6,1201.8 L1256.4,1198.6 L1261.2,1195.2 L1266.0,1191.7 L1270.8,1188.1 L1275.6,1184.3 L1280.4,1180.5 L1285.2,1176.5 L1290.0,1172.4 L1294.8,1168.2 L1299.6,1163.9 L1304.4,1159.4 L1309.2,1154.8 L1314.0,1150.0 L1318.7,1145.2 L1323.5,1140.1 L1328.3,1135.0 L1333.1,1129.7 L1337.9,1124.3 L1342.7,1118.7 L1347.5,1113.0 L1352.3,1107.1 L1357.1,1101.1 L1361.9,1094.9 L1366.7,1088.6 L1371.5,1082.1 L1376.3,1075.5 L1381.1,1068.8 L1385.9,1061.9 L1390.7,1054.8 L1395.5,1047.6 L1400.3,1040.3 L1405.1,1032.8 L1409.9,1025.2 L1414.7,1017.4 L1419.5,1009.5 L1424.3,1001.5 L1429.1,993.4 L1433.9,985.1 L1438.7,976.7 L1443.5,968.2 L1448.2,959.5 L1453.0,950.8 L1457.8,942.0 L1462.6,933.0 L1467.4,924.0 L1472.2,914.9 L1477.0,905.7 L1481.8,896.5 L1486.6,887.1 L1491.4,877.8 L1496.2,868.3 L1501.0,858.8 L1505.8,849.3 L1510.6,839.8 L1515.4,830.2 L1520.2,820.6 L1525.0,811.0 L1529.8,801.4 L1534.6,791.8 L1539.4,782.2 L1544.2,772.7 L1549.0,763.2 L1553.8,753.7 L1558.6,744.2 L1563.4,734.9 L1568.2,725.5 L1573.0,716.3 L1577.7,707.1 L1582.5,698.0 L1587.3,689.0 L1592.1,680.0 L1596.9,671.2 L1601.7,662.5 L1606.5,653.9 L1611.3,645.4 L1616.1,637.0 L1620.9,628.7 L1625.7,620.5 L1630.5,612.5 L1635.3,604.6 L1640.1,596.9 L1644.9,589.3 L1649.7,581.8 L1654.5,574.5 L1659.3,567.3 L1664.1,560.2 L1668.9,553.3 L1673.7,546.6 L1678.5,540.0 L1683.3,533.5 L1688.1,527.2 L1692.9,521.1 L1697.7,515.1 L1702.4,509.2 L1707.2,503.5 L1712.0,497.9 L1716.8,492.5 L1721.6,487.2 L1726.4,482.0 L1731.2,477.0 L1736.0,472.1 L1740.8,467.4 L1745.6,462.8 L1750.4,458.3 L1755.2,454.0 L1760.0,449.8 L1764.8,445.7 L1769.6,441.7 L1774.4,437.9 L1779.2,434.2 L1784.0,430.6 L1788.8,427.1 L1793.6,423.7 L1798.4,420.4 L1803.2,417.2 L1808.0,414.2 L1812.8,411.2 L1817.6,408.3 L1822.4,405.5 L1827.2,402.8 L1831.9,400.3 L1836.7,397.7 L1841.5,395.3 L1846.3,393.0 L1851.1,390.7 L1855.9,388.5 L1860.7,386.4 L1865.5,384.4 L1870.3,382.4 L1875.1,380.5 L1879.9,378.7 L1884.7,376.9 L1889.5,375.3 L1894.3,373.6 L1899.1,372.0 L1903.9,370.5 L1908.7,369.0 L1913.5,367.6 L1918.3,366.3 L1923.1,365.0 L1927.9,363.7 L1932.7,362.5 L1937.5,361.3 L1942.3,360.2 L1947.1,359.1 L1951.9,358.0 L1956.7,357.0 L1961.4,356.0 L1966.2,355.1 L1971.0,354.2 L1975.8,353.3 L1980.6,352.5 L1985.4,351.7 L1990.2,350.9 L1995.0,350.2 L1999.8,349.5 L2004.6,348.8 L2009.4,348.1 L2014.2,347.5 L2019.0,346.9 L2023.8,346.3 L2028.6,345.7 L2033.4,345.2 L2038.2,344.6 L2043.0,344.1 L2047.8,343.6 L2052.6,343.2 L2057.4,342.7 L2062.2,342.3 L2067.0,341.9 L2071.8,341.5 L2076.6,341.1 L2081.4,340.7 L2086.1,340.4 L2090.9,340.0 L2095.7,339.7 L2100.5,339.4 L2105.3,339.1 L2110.1,338.8 L2114.9,338.5 L2119.7,338.2 L2124.5,338.0 L2129.3,337.7 L2134.1,337.5 L2138.9,337.3 L2143.7,337.0 L2148.5,336.8" stroke="#0000ff" stroke-width="7" fill="none"/>
<text x="180" y="1332.5" font-family="'Liberation Sans', Arial, sans-serif" font-size="64" text-anchor="end">0</text>
<text x="180" y="981.5" font-family="'Liberation Sans', Arial, sans-serif" font-size="64" text-anchor="end">1</text>
<text x="180" y="630.5" font-family="'Liberation Sans', Arial, sans-serif" font-size="64" text-anchor="end">2</text>
<text x="180" y="279.5" font-family="'Liberation Sans', Arial, sans-serif" font-size="64" text-anchor="end">3</text>
<text x="455.2" y="1456" font-family="'Liberation Sans', Arial, sans-serif" font-size="64" text-anchor="middle">0.1</text>
<text x="877.0" y="1456" font-family="'Liberation Sans', Arial, sans-serif" font-size="64" text-anchor="middle">1</text>
<text x="1298.9" y="1456" font-family="'Liberation Sans', Arial, sans-serif" font-size="64" text-anchor="middle">10</text>
<text x="1720.8" y="1456" font-family="'Liberation Sans', Arial, sans-serif" font-size="64" text-anchor="middle">100</text>
<text x="2142.7" y="1456" font-family="'Liberation Sans', Arial, sans-serif" font-size="64" text-anchor="middle">1000</text>
<text transform="translate(1186.5,1595.8) scale(0.96,1)" font-family="'Liberation Sans', Arial, sans-serif" font-size="88" font-weight="bold" text-anchor="middle">Agonist (µg/mL)</text>
<text transform="translate(82.6,680) rotate(-90) scale(0.94,1)" font-family="'Liberation Sans', Arial, sans-serif" font-size="90" text-anchor="middle"><tspan font-size="84">Δ</tspan><tspan font-weight="bold">F/F0</tspan></text>
<circle cx="321.4" cy="82.0" r="15.6" fill="#000" stroke="#000" stroke-width="3.8"/>
<circle cx="321.4" cy="142.3" r="15.6" fill="#00ff00" stroke="#000" stroke-width="3.8"/>
<path d="M321.4,183.5 L337.2,210.8 L305.6,210.8 Z" fill="#ff0000" stroke="#000" stroke-width="3.8" stroke-linejoin="miter"/>
<path d="M305.6,247.9 L337.2,247.9 L321.4,275.2 Z" fill="#0000ff" stroke="#000" stroke-width="3.8" stroke-linejoin="miter"/>
<text x="402.6" y="89.4" font-family="'Liberation Sans', Arial, sans-serif" font-size="48" xml:space="preserve">Sucralose EC<tspan dy="15.5">50</tspan><tspan dy="-15.5"> = 16 ± 1 µg/mL (40µM) (max = 2.5 ± 0.1)</tspan></text>
<text x="402.6" y="151.8" font-family="'Liberation Sans', Arial, sans-serif" font-size="48" xml:space="preserve">Compound <tspan font-weight="bold">2</tspan> EC<tspan dy="15.5">50</tspan><tspan dy="-15.5"> =  28 ± 2 µg/mL (max = 1.4 ± 0.1)</tspan></text>
<text x="402.6" y="209.6" font-family="'Liberation Sans', Arial, sans-serif" font-size="48" xml:space="preserve">Compound <tspan font-weight="bold">3</tspan> EC<tspan dy="15.5">50</tspan><tspan dy="-15.5"> = 29 ± 7 µg/mL (max = 1.3 ± 0.3)</tspan></text>
<text x="402.6" y="263.5" font-family="'Liberation Sans', Arial, sans-serif" font-size="48" xml:space="preserve">Glycyrrhizin EC<tspan dy="15.5">50</tspan><tspan dy="-15.5"> = 34 ± 3 µg/mL (42µM) (max = 2.8 ± 0.1)</tspan></text>
</svg>
</body></html>
